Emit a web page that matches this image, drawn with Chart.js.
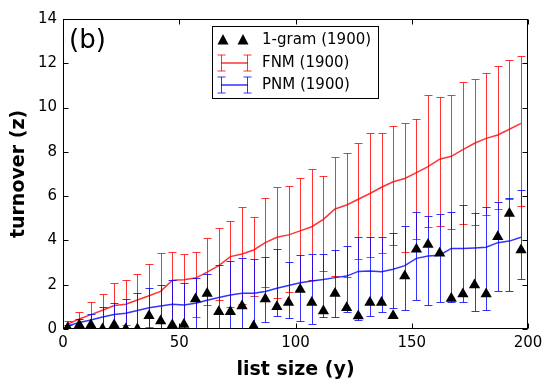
<!DOCTYPE html>
<html>
<head>
<meta charset="utf-8">
<script src="https://cdn.jsdelivr.net/npm/chart.js@4.4.1/dist/chart.umd.min.js"></script>
<style>
  html, body { margin: 0; padding: 0; background: #fff; }
  #wrap { position: relative; width: 553px; height: 388px; }
</style>
</head>
<body>
<div id="wrap"><canvas id="chart" width="553" height="388"></canvas></div>
<script>
// list size (x positions of every sample)
var listSize = [2, 7, 12, 17, 22, 27, 32, 37, 42, 47,
                52, 57, 62, 67, 72, 77, 82, 87, 92, 97,
                102, 107, 112, 117, 122, 127, 132, 137, 142, 147,
                152, 157, 162, 167, 172, 177, 182, 187, 192, 197];

// 1-gram (1900) turnover, black triangles
var unigram = [0.05, 0.18, 0.18, 0, 0.18, 0, 0, 0.6, 0.36, 0.18,
               0.2, 1.36, 1.6, 0.78, 0.78, 1.04, 0.13, 1.35, 1.0, 1.2,
               1.78, 1.2, 0.81, 1.6, 0.96, 0.59, 1.2, 1.2, 0.6, 2.39,
               3.6, 3.82, 3.42, 1.38, 1.58, 1.99, 1.58, 4.17, 5.22, 3.57];

// FNM (1900): mean line and error bar ends
var fnmMean = [0.22, 0.45, 0.65, 0.85, 1.06, 1.12, 1.31, 1.5, 1.7, 2.2,
               2.22, 2.3, 2.57, 2.86, 3.27, 3.39, 3.57, 3.9, 4.14, 4.25,
               4.43, 4.62, 4.95, 5.42, 5.6, 5.86, 6.12, 6.4, 6.65, 6.8,
               7.06, 7.33, 7.67, 7.8, 8.1, 8.39, 8.61, 8.76, 9.02, 9.29];
var fnmHigh = [0.35, 0.79, 1.2, 1.6, 2.06, 2.2, 2.5, 2.92, 3.42, 3.46,
               3.37, 3.5, 4.1, 4.54, 4.89, 5.53, 5.07, 5.9, 6.4, 6.45,
               6.8, 7.21, 6.91, 7.75, 7.93, 8.39, 8.84, 8.84, 9.19, 9.32,
               9.47, 10.58, 10.46, 10.56, 11.14, 11.31, 11.55, 11.86, 12.13, 12.31];
var fnmLow  = [0.05, 0.1, 0.1, 0.05, 0, 0.17, 0, 0.1, 0.05, 0,
               0, 0.53, 1.07, 1.3, 1.0, 1.13, 1.47, 1.88, 1.4, 1.65,
               1.7, 2.21, 2.63, 2.4, 2.33, 3.15, 3.27, 3.42, 3.79, 3.5,
               4.07, 4.6, 4.66, 4.52, 4.73, 4.7, 5.13, 5.41, 5.85, 5.55];

// PNM (1900): mean line and error bar ends
var pnmMean = [0.14, 0.29, 0.41, 0.54, 0.65, 0.71, 0.84, 0.96, 1.04, 1.12,
               1.08, 1.16, 1.3, 1.42, 1.54, 1.61, 1.61, 1.69, 1.84, 1.96,
               2.09, 2.17, 2.24, 2.32, 2.39, 2.6, 2.62, 2.59, 2.7, 2.86,
               3.19, 3.3, 3.33, 3.64, 3.64, 3.66, 3.69, 3.9, 3.97, 4.14];
var pnmHigh = [0.2, 0.45, 0.68, 0.99, 1.19, 1.34, 1.61, 1.84, 2.0, 2.2,
               2.09, 2.29, 2.5, 2.9, 3.07, 3.19, 3.15, 3.27, 3.6, 3.04,
               3.33, 3.4, 3.4, 3.57, 3.73, 4.14, 4.17, 4.14, 4.32, 4.64,
               5.27, 5.1, 5.21, 5.27, 5.59, 5.22, 5.5, 5.72, 5.9, 6.27];
var pnmLow  = [0, 0, 0, 0, 0, 0, 0, 0, 0, 0,
               0, 0, 0, 0, 0.03, 0.03, 0, 0.31, 0.58, 0.5,
               0.36, 0.23, 0.53, 0.55, 0.78, 0.41, 0.59, 0.78, 0.93, 0.86,
               1.31, 1.08, 1.2, 1.2, 1.2, 0.81, 0.86, 1.72, 1.72, 2.26];

var xTicks = [0, 50, 100, 150, 200];
var yTicks = [0, 2, 4, 6, 8, 10, 12, 14];

var FONT = "'DejaVu Sans', sans-serif";
var RED = "rgba(255,0,0,0.8)";
var BLUE = "rgba(0,0,255,0.8)";

function points(ys) {
  var out = [];
  for (var i = 0; i < listSize.length; i++) out.push({ x: listSize[i], y: ys[i] });
  return out;
}

// vertical error bars with caps, drawn right after their own line
var errorBars = {
  id: "errorBars",
  afterDatasetDraw: function (chart, args) {
    var ds = chart.data.datasets[args.index];
    if (!ds.errLow) return;
    var sx = chart.scales.x, sy = chart.scales.y, a = chart.chartArea, ctx = chart.ctx;
    ctx.save();
    ctx.beginPath();
    ctx.rect(a.left, a.top, a.right - a.left, a.bottom - a.top);
    ctx.clip();
    ctx.strokeStyle = ds.borderColor;
    ctx.lineWidth = 1;
    for (var i = 0; i < ds.data.length; i++) {
      var x = Math.round(sx.getPixelForValue(ds.data[i].x)) + 0.5;
      var lo = Math.round(sy.getPixelForValue(ds.errLow[i])) + 0.5;
      var hi = Math.round(sy.getPixelForValue(ds.errHigh[i])) + 0.5;
      ctx.beginPath();
      ctx.moveTo(x, lo); ctx.lineTo(x, hi);
      ctx.moveTo(x - 4, lo); ctx.lineTo(x + 4, lo);
      ctx.moveTo(x - 4, hi); ctx.lineTo(x + 4, hi);
      ctx.stroke();
    }
    ctx.restore();
  }
};

// box frame, inward ticks on all four sides, panel tag and legend
var frame = {
  id: "frame",
  afterDraw: function (chart) {
    var ctx = chart.ctx, a = chart.chartArea, sx = chart.scales.x, sy = chart.scales.y;
    var L = Math.round(a.left) + 0.5, R = Math.round(a.right) - 0.5;
    var T = Math.round(a.top) + 0.5, B = Math.round(a.bottom) - 0.5;
    ctx.save();
    ctx.strokeStyle = "#000";
    ctx.lineWidth = 1;
    ctx.strokeRect(L, T, R - L, B - T);
    ctx.beginPath();
    xTicks.forEach(function (v) {
      var x = Math.round(sx.getPixelForValue(v)) + 0.5;
      ctx.moveTo(x, B); ctx.lineTo(x, B - 5);
      ctx.moveTo(x, T); ctx.lineTo(x, T + 5);
    });
    yTicks.forEach(function (v) {
      var y = Math.round(sy.getPixelForValue(v)) + 0.5;
      ctx.moveTo(L, y); ctx.lineTo(L + 5, y);
      ctx.moveTo(R, y); ctx.lineTo(R - 5, y);
    });
    ctx.stroke();

    ctx.fillStyle = "#000";
    ctx.font = "26px " + FONT;
    ctx.textAlign = "left";
    ctx.textBaseline = "middle";
    ctx.fillText("(b)", a.left + 6, a.top + 22);

    // legend
    var bx = 212.5, by = 26.5, bw = 166, bh = 72;
    ctx.fillStyle = "#fff";
    ctx.fillRect(bx, by, bw, bh);
    ctx.strokeStyle = "#000";
    ctx.strokeRect(bx, by, bw, bh);
    var rows = [
      { label: "1-gram (1900)", kind: "tri", y: 40 },
      { label: "FNM (1900)", kind: "err", color: RED, y: 63 },
      { label: "PNM (1900)", kind: "err", color: BLUE, y: 85 }
    ];
    rows.forEach(function (r) {
      if (r.kind === "tri") {
        ctx.fillStyle = "#000";
        [223, 243].forEach(function (cx) {
          ctx.beginPath();
          ctx.moveTo(cx, r.y - 6);
          ctx.lineTo(cx + 5.5, r.y + 4.5);
          ctx.lineTo(cx - 5.5, r.y + 4.5);
          ctx.closePath();
          ctx.fill();
        });
      } else {
        ctx.strokeStyle = r.color;
        ctx.lineWidth = 1.5;
        ctx.beginPath();
        ctx.moveTo(221, r.y); ctx.lineTo(248, r.y);
        ctx.stroke();
        ctx.lineWidth = 1;
        ctx.beginPath();
        [221.5, 247.5].forEach(function (cx) {
          ctx.moveTo(cx, r.y - 8); ctx.lineTo(cx, r.y + 8);
          ctx.moveTo(cx - 4, r.y - 8); ctx.lineTo(cx + 4, r.y - 8);
          ctx.moveTo(cx - 4, r.y + 8); ctx.lineTo(cx + 4, r.y + 8);
        });
        ctx.stroke();
      }
      ctx.fillStyle = "#000";
      ctx.font = "15px " + FONT;
      ctx.textBaseline = "middle";
      ctx.fillText(r.label, 262, r.y);
    });
    ctx.restore();
  }
};

new Chart(document.getElementById("chart"), {
  type: "scatter",
  data: {
    datasets: [
      {
        label: "1-gram (1900)",
        data: points(unigram),
        showLine: false,
        pointStyle: "triangle",
        pointRadius: 6.5,
        backgroundColor: "#000",
        borderColor: "#000",
        borderWidth: 0,
        clip: 0
      },
      {
        label: "PNM (1900)",
        data: points(pnmMean),
        errLow: pnmLow,
        errHigh: pnmHigh,
        showLine: true,
        borderColor: BLUE,
        borderWidth: 1.5,
        pointRadius: 0,
        tension: 0,
        clip: 0
      },
      {
        label: "FNM (1900)",
        data: points(fnmMean),
        errLow: fnmLow,
        errHigh: fnmHigh,
        showLine: true,
        borderColor: RED,
        borderWidth: 1.5,
        pointRadius: 0,
        tension: 0,
        clip: 0
      }
    ]
  },
  options: {
    responsive: false,
    animation: false,
    devicePixelRatio: 1,
    layout: { padding: { left: 0, right: 25, top: 19, bottom: 0 } },
    plugins: { legend: { display: false }, tooltip: { enabled: false } },
    scales: {
      x: {
        type: "linear",
        min: 0,
        max: 200,
        grid: { display: false, drawTicks: false },
        border: { display: false },
        afterBuildTicks: function (s) { s.ticks = xTicks.map(function (v) { return { value: v }; }); },
        afterFit: function (s) { s.height = 59; },
        ticks: { color: "#000", font: { family: FONT, size: 15 }, padding: 5, maxRotation: 0 },
        title: {
          display: true,
          text: "list size (y)",
          color: "#000",
          font: { family: FONT, size: 19, weight: "bold" },
          padding: { top: 0, bottom: 7 }
        }
      },
      y: {
        min: 0,
        max: 14,
        grid: { display: false, drawTicks: false },
        border: { display: false },
        afterBuildTicks: function (s) { s.ticks = yTicks.map(function (v) { return { value: v }; }); },
        afterFit: function (s) { s.width = 63; },
        ticks: { color: "#000", font: { family: FONT, size: 15 }, padding: 6 },
        title: {
          display: true,
          text: "turnover (z)",
          color: "#000",
          font: { family: FONT, size: 19, weight: "bold" },
          padding: { top: 8, bottom: 0 }
        }
      }
    }
  },
  plugins: [errorBars, frame]
});
</script>
</body>
</html>
